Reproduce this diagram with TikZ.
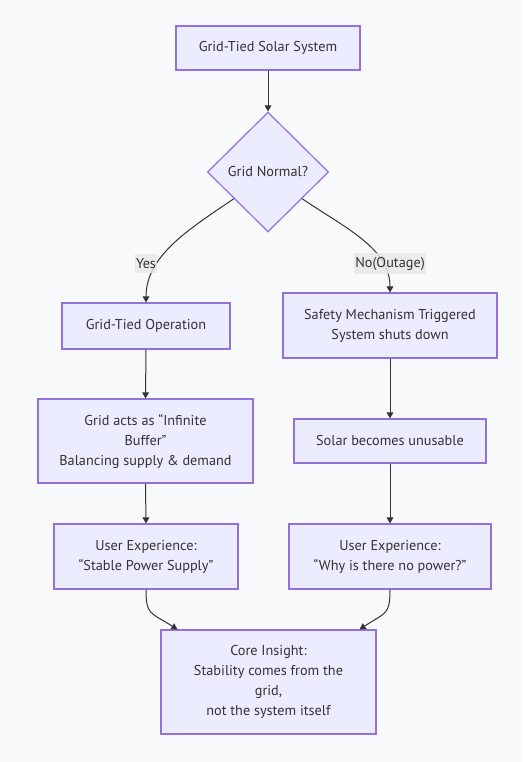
\documentclass[tikz,border=0pt]{standalone}
\usepackage{fontspec}
\setmainfont{PT Sans}
\usetikzlibrary{shapes.geometric,arrows.meta}
\definecolor{bgc}{RGB}{248,249,251}
\definecolor{nfill}{RGB}{236,236,255}
\definecolor{nline}{RGB}{147,112,219}
\definecolor{txt}{RGB}{51,51,51}
\definecolor{lblbg}{RGB}{232,232,232}
\tikzset{
  box/.style={draw=nline, fill=nfill, line width=0.9pt, rectangle, inner sep=0pt, align=center,
    text=txt, font=\fontsize{10.7}{15}\selectfont},
  dia/.style={draw=nline, fill=nfill, line width=0.9pt, diamond, inner sep=0pt, align=center,
    text=txt, font=\fontsize{10.7}{15}\selectfont},
  conn/.style={draw=txt, line width=0.75pt, -{Triangle[length=4.5pt,width=5pt]}},
  elabel/.style={fill=lblbg, fill opacity=0.8, text opacity=1, text=txt, inner xsep=0.6pt, inner ysep=3pt,
    font=\fontsize{10.7}{13}\selectfont}
}
\begin{document}
\begin{tikzpicture}[x=0.75pt,y=-0.75pt]
\fill[bgc] (0,0) rectangle (522,762);
\useasboundingbox (0,0) rectangle (522,762);

\node[box, minimum width=138pt, minimum height=33pt] (top) at (268,48) {Grid-Tied Solar System};
\node[dia, minimum width=90.75pt, minimum height=90pt] (d) at (268,172) {Grid Normal?};
\node[box, minimum width=126pt, minimum height=34.5pt] (gto) at (146,326) {Grid-Tied Operation};
\node[box, minimum width=160.5pt, minimum height=48.75pt] (safe) at (390,325.5) {Safety Mechanism Triggered\\System shuts down};
\node[box, minimum width=161.25pt, minimum height=63pt] (ga) at (145.5,441) {Grid acts as “Infinite\\Buffer”\\Balancing supply \& demand};
\node[box, minimum width=144pt, minimum height=33pt] (solar) at (390,441) {Solar becomes unusable};
\node[box, minimum width=138pt, minimum height=48.75pt] (uel) at (146,556.5) {User Experience:\\“Stable Power Supply”};
\node[box, minimum width=151.5pt, minimum height=48.75pt] (uer) at (390,556.5) {User Experience:\\“Why is there no power?”};
\node[box, minimum width=161.25pt, minimum height=78pt] (core) at (268.5,682) {Core Insight:\\Stability comes from the\\grid,\\not the system itself};

\draw[conn] (top.south) -- (d.north);
\draw[conn] (d.-142) .. controls (191,228) and (146,255) .. (gto.north);
\draw[conn] (d.-38) .. controls (345,228) and (390,248) .. (safe.north);
\draw[conn] (gto.south) -- (ga.north);
\draw[conn] (ga.south) -- (uel.north);
\draw[conn] (safe.south) -- (solar.north);
\draw[conn] (solar.south) -- (uer.north);
\draw[conn] (uel.south) .. controls (146,615) and (150,612) .. (core.150);
\draw[conn] (uer.south) .. controls (390,615) and (386,612) .. (core.30);

\node[elabel] (lyes) at (146,263.5) {Yes};
\node[elabel] (lno) at (390,263.5) {No(Outage)};
\end{tikzpicture}
\end{document}
